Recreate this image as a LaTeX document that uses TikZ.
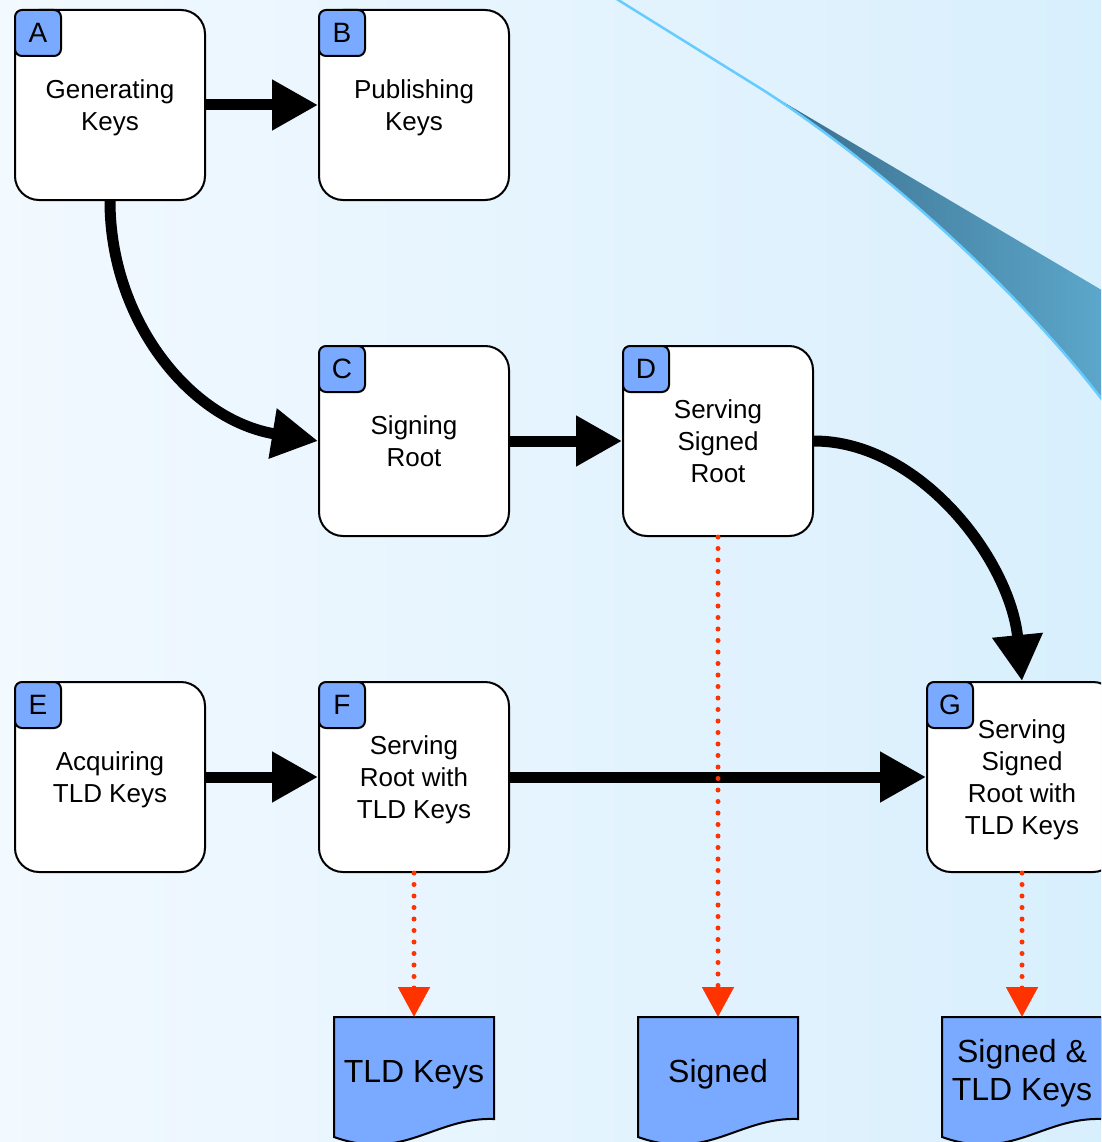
\documentclass[tikz,border=0pt]{standalone}
\usepackage{fontspec}
\setmainfont{Liberation Sans}
\usetikzlibrary{arrows.meta}
\definecolor{bgl}{RGB}{242,249,255}
\definecolor{bgr}{RGB}{216,239,253}
\definecolor{badgeblue}{RGB}{122,170,255}
\definecolor{dotred}{RGB}{255,51,0}
\definecolor{swdark}{RGB}{58,108,138}
\definecolor{swlight}{RGB}{92,168,204}
\definecolor{swline}{RGB}{102,204,255}
\newcommand\nodesc[1]{\raisebox{0pt}[\height][0pt]{#1}}
\begin{document}
\begin{tikzpicture}[x=1pt,y=-1pt,
  box/.style={draw=black, line width=2pt, fill=white, rounded corners=24pt,
    minimum width=190pt, minimum height=190pt, inner sep=0pt, align=center,
    font=\fontsize{26}{32}\selectfont},
  badge/.style={draw=black, line width=2pt, fill=badgeblue, rounded corners=7pt,
    minimum size=46pt, inner sep=0pt, anchor=north west,
    font=\fontsize{28}{28}\selectfont},
  flowarrow/.style={draw=black, line width=11pt, -{Triangle[length=46pt,width=48pt]}},
  dotarrow/.style={draw=dotred, line width=5pt, line cap=round,
    dash pattern=on 0pt off 11.5pt, -{Triangle[length=30pt,width=31pt]}},
  doctext/.style={align=center, inner sep=0pt, font=\fontsize{32}{38}\selectfont},
  docshape/.pic={
    \path[draw=black, line width=2pt, fill=badgeblue]
      (-80,0) -- (80,0) -- (80,102)
      .. controls (20,100) and (-10,145) .. (-80,120) -- cycle;}
]
\useasboundingbox (0,0) rectangle (1101,1142);
\clip (0,0) rectangle (1101,1142);
% background
\fill[left color=bgl, right color=bgr] (0,0) rectangle (1101,1142);
% swoosh
\shade[left color=swdark, right color=swlight]
  (763,90) -- (1110,295) -- (1110,410)
  .. controls (1040,320) and (940,210) .. (763,90) -- cycle;
\draw[swline, line width=2.5pt]
  (615,-2) -- (763,90) .. controls (880,165) and (1020,290) .. (1110,410);

% boxes
\node[box] (A) at (110,105) {Generating\\\nodesc{Keys}};
\node[box] (B) at (414,105) {Publishing\\\nodesc{Keys}};
\node[box] (C) at (414,441) {Signing\\Root};
\node[box] (D) at (718,441) {Serving\\Signed\\Root};
\node[box] (E) at (110,777) {Acquiring\\\nodesc{TLD Keys}};
\node[box] (F) at (414,777) {Serving\\Root with\\\nodesc{TLD Keys}};
\node[box] (G) at (1022,777) {Serving\\Signed\\Root with\\\nodesc{TLD Keys}};

\node[badge] (Ab) at (A.north west) {A};
\node[badge] (Bb) at (B.north west) {B};
\node[badge] (Cb) at (C.north west) {C};
\node[badge] (Db) at (D.north west) {D};
\node[badge] (Eb) at (E.north west) {E};
\node[badge] (Fb) at (F.north west) {F};
\node[badge] (Gb) at (G.north west) {G};

% documents
\pic at (414,1017) {docshape};
\pic at (718,1017) {docshape};
\pic at (1022,1017) {docshape};
\coordinate (d1) at (414,1017);
\coordinate (d2) at (718,1017);
\coordinate (d3) at (1022,1017);
\node[doctext] (t1) at (414,1071) {\nodesc{TLD Keys}};
\node[doctext] (t2) at (718,1071) {\nodesc{Signed}};
\node[doctext] (t3) at (1022,1070) {Signed \&\\\nodesc{TLD Keys}};

% black connectors
\draw[flowarrow] (A.east) -- (B.west);
\draw[flowarrow] (A.south) .. controls (110,320) and (190,420) .. (C.west);
\draw[flowarrow] (C.east) -- (D.west);
\draw[flowarrow] (D.east) .. controls (920,441) and (1010,560) .. (G.north);
\draw[flowarrow] (E.east) -- (F.west);
\draw[flowarrow] (F.east) -- (G.west);

% red dotted connectors
\draw[dotarrow] (F.south) -- (d1);
\draw[dotarrow] (D.south) -- (d2);
\draw[dotarrow] (G.south) -- (d3);
\end{tikzpicture}
\end{document}
